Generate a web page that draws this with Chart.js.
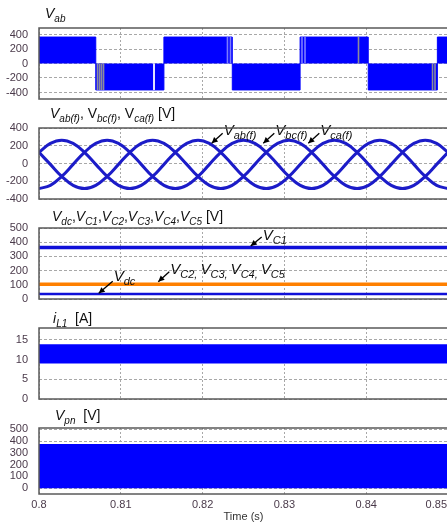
<!DOCTYPE html>
<html>
<head>
<meta charset="utf-8">
<script src="https://cdn.jsdelivr.net/npm/chart.js@4.4.0/dist/chart.umd.min.js"></script>
<style>
html, body { margin:0; padding:0; background:#fff; overflow:hidden; width:447px; height:525px; }
canvas { position:absolute; left:0; }
.ttl { position:absolute; font-family:"Liberation Sans", Arial, sans-serif; font-size:14px; line-height:16px; color:#111; white-space:nowrap; z-index:2; }
.ttl i { font-style:italic; }
.s { font-size:10px; position:relative; top:4px; font-style:italic; }
</style>
</head>
<body>
<div class="ttl" style="left:45px;top:5px"><i>V</i><span class="s">ab</span></div>
<div class="ttl" style="left:50px;top:105px"><i>V</i><span class="s">ab(f)</span>, V<span class="s">bc(f)</span>, V<span class="s">ca(f)</span> [V]</div>
<div class="ttl" style="left:52px;top:208px"><i>V</i><span class="s">dc</span>,<i>V</i><span class="s">C1</span>,<i>V</i><span class="s">C2</span>,<i>V</i><span class="s">C3</span>,<i>V</i><span class="s">C4</span>,<i>V</i><span class="s">C5</span> [V]</div>
<div class="ttl" style="left:53px;top:310px"><i>i</i><span class="s">L1</span>&nbsp; [A]</div>
<div class="ttl" style="left:55px;top:407px"><i>V</i><span class="s">pn</span>&nbsp; [V]</div>

<canvas id="c1" width="448" height="107" style="top:10px"></canvas>
<canvas id="c2" width="448" height="107" style="top:110px"></canvas>
<canvas id="c3" width="448" height="107" style="top:210px"></canvas>
<canvas id="c4" width="448" height="107" style="top:310px"></canvas>
<canvas id="c5" width="448" height="115" style="top:410px"></canvas>

<script>
// x ticks (s)
var timeTicks = [0.8, 0.81, 0.82, 0.83, 0.84, 0.85];

// Vab : switched line voltage, level changes
var vabTime  = [0.8, 0.80694, 0.81527, 0.82363, 0.83192, 0.84025, 0.8487, 0.85];
var vabLevel = [365, -365, 365, -365, 365, -365, 365, 365];
var vabTicks = [-400, -200, 0, 200, 400];
// switching transients seen inside the blocks
var grayTime  = [0.80715, 0.8074, 0.80764, 0.80789, 0.83906, 0.84811, 0.84841];
var grayLevel = [-365, -365, -365, -365, 365, -365, -365];
var paleTime  = [0.82304, 0.82341, 0.83215, 0.83252];
var paleLevel = [365, 365, 365, 365];
var gapTime  = [0.81406];
var gapLevel = [-365];

// filtered line voltages, read every 30 deg (60 Hz)
var fTime = [0.8, 0.80139, 0.80278, 0.80417, 0.80556, 0.80694, 0.80833, 0.80972, 0.81111, 0.8125, 0.81389, 0.81528,
             0.81667, 0.81806, 0.81944, 0.82083, 0.82222, 0.82361, 0.825, 0.82639, 0.82778, 0.82917, 0.83056, 0.83194,
             0.83333, 0.83472, 0.83611, 0.8375, 0.83889, 0.84028, 0.84167, 0.84306, 0.84444, 0.84583, 0.84722, 0.84861, 0.85];
var vabF = [-283, -246, -146, -10, 126, 226, 263, 226, 126, -10, -146, -246,
            -283, -246, -146, -10, 126, 226, 263, 226, 126, -10, -146, -246,
            -283, -246, -146, -10, 126, 226, 263, 226, 126, -10, -146, -246, -283];
var vbcF = [126, 226, 263, 226, 126, -10, -146, -246, -283, -246, -146, -10,
            126, 226, 263, 226, 126, -10, -146, -246, -283, -246, -146, -10,
            126, 226, 263, 226, 126, -10, -146, -246, -283, -246, -146, -10, 126];
var vcaF = [126, -10, -146, -246, -283, -246, -146, -10, 126, 226, 263, 226,
            126, -10, -146, -246, -283, -246, -146, -10, 126, 226, 263, 226,
            126, -10, -146, -246, -283, -246, -146, -10, 126, 226, 263, 226, 126];
var vfTicks = [-400, -200, 0, 200, 400];

// capacitor voltages
var dcTime = [0.8, 0.85];
var vC1 = [362, 362];
var vC2to5 = [104, 104];
var vDc = [35, 35];
var capTicks = [0, 100, 200, 300, 400, 500];

// inductor current ripple band
var iL1Max = [13.9, 13.9];
var iL1Min = [9.0, 9.0];
var iTicks = [0, 5, 10, 15];

// Vpn envelope
var vpnMax = [375, 375];
var vpnTicks = [0, 100, 200, 300, 400, 500];

var FONT = '"Liberation Sans", Arial, sans-serif';
var BLUE = '#0000ff';
var LINE = '#1c1cc8';

function pts(xs, ys){
    return xs.map(function(x, i){ return {x: x, y: ys[i]}; });
}

// vertical strokes from 0 to the block level, split by gaps
function marks(xs, ys){
    var out = [];
    xs.forEach(function(x, i){
        out.push({x: x, y: 0}, {x: x, y: ys[i]}, {x: x, y: null});
    });
    return out;
}

var framePlugin = {
    id: 'frame',
    afterDraw: function(chart){
        var a = chart.chartArea, ctx = chart.ctx;
        ctx.save();
        ctx.strokeStyle = '#5a5a5a';
        ctx.lineWidth = 1.5;
        ctx.strokeRect(a.left, a.top, a.right - a.left, a.bottom - a.top);
        ctx.restore();
    }
};

// arrows with italic labels, tip given in data units
var arrowPlugin = {
    id: 'arrows',
    afterDatasetsDraw: function(chart, args, opts){
        var items = opts.items || [];
        var ctx = chart.ctx, xs = chart.scales.x, ys = chart.scales.y;
        ctx.save();
        items.forEach(function(it){
            var tx = xs.getPixelForValue(it.x), ty = ys.getPixelForValue(it.y);
            var bx = tx + it.dx, by = ty + it.dy;
            ctx.strokeStyle = '#000'; ctx.fillStyle = '#000'; ctx.lineWidth = 1.3;
            ctx.beginPath(); ctx.moveTo(bx, by); ctx.lineTo(tx, ty); ctx.stroke();
            var ang = Math.atan2(ty - by, tx - bx);
            ctx.beginPath();
            ctx.moveTo(tx, ty);
            ctx.lineTo(tx - 6 * Math.cos(ang) + 3 * Math.sin(ang), ty - 6 * Math.sin(ang) - 3 * Math.cos(ang));
            ctx.lineTo(tx - 6 * Math.cos(ang) - 3 * Math.sin(ang), ty - 6 * Math.sin(ang) + 3 * Math.cos(ang));
            ctx.closePath(); ctx.fill();
            var x = bx + 1, y = by + it.base;
            ctx.fillStyle = '#111';
            ctx.textBaseline = 'alphabetic'; ctx.textAlign = 'left';
            it.parts.forEach(function(p){
                ctx.font = 'italic ' + (p[1] ? 11 : 15) + 'px ' + FONT;
                ctx.fillText(p[0], x, p[1] ? y + 4 : y);
                x += ctx.measureText(p[0]).width;
            });
        });
        ctx.restore();
    }
};

var timeLabels = {
    id: 'timeLabels',
    afterDraw: function(chart){
        var xs = chart.scales.x, ctx = chart.ctx;
        ctx.save();
        ctx.font = '11px ' + FONT;
        ctx.fillStyle = '#4a3a4a';
        ctx.textBaseline = 'middle'; ctx.textAlign = 'left';
        timeTicks.forEach(function(t){
            var label = String(t);
            var w = ctx.measureText(label).width;
            var px = Math.min(xs.getPixelForValue(t) - w / 2, 447 - w);
            ctx.fillText(label, px, chart.chartArea.bottom + 11);
        });
        ctx.restore();
    }
};

function makeChart(id, datasets, yMin, yMax, yTicks, arrows, bottom){
    var xScale = {
        type: 'linear', min: 0.8, max: 0.85,
        afterBuildTicks: function(s){ s.ticks = timeTicks.map(function(v){ return {value: v}; }); },
        ticks: {display: false},
        grid: {color: '#a8a8a8', lineWidth: 1, drawTicks: false},
        border: {display: false, dash: [2, 2]},
        afterFit: function(s){ s.height = bottom ? 31 : 0; }
    };
    if (bottom) {
        xScale.title = {display: true, text: 'Time (s)', color: '#333', font: {family: FONT, size: 11}, padding: {top: 0, bottom: 1}};
    }
    var plugins = [framePlugin, arrowPlugin];
    if (bottom) plugins.push(timeLabels);
    return new Chart(document.getElementById(id), {
        type: 'line',
        data: {datasets: datasets},
        options: {
            responsive: false,
            animation: false,
            spanGaps: false,
            layout: {padding: {top: 18, bottom: bottom ? 0 : 18, left: 0, right: 0}},
            plugins: {legend: {display: false}, tooltip: {enabled: false}, arrows: {items: arrows}},
            elements: {point: {radius: 0}},
            scales: {
                x: xScale,
                y: {
                    min: yMin, max: yMax,
                    afterBuildTicks: function(s){ s.ticks = yTicks.map(function(v){ return {value: v}; }); },
                    afterFit: function(s){ s.width = 39; },
                    ticks: {color: '#4a3a4a', font: {family: FONT, size: 11}, padding: 11, autoSkip: false},
                    grid: {color: '#a8a8a8', lineWidth: 1, drawTicks: false},
                    border: {display: false, dash: [3, 2]}
                }
            }
        },
        plugins: plugins
    });
}

makeChart('c1', [
    {data: marks(grayTime, grayLevel), borderColor: '#8c8c9c', borderWidth: 1.6, fill: false},
    {data: marks(paleTime, paleLevel), borderColor: '#7c7cff', borderWidth: 1.6, fill: false},
    {data: marks(gapTime, gapLevel), borderColor: '#ffffff', borderWidth: 1, fill: false},
    {data: pts(vabTime, vabLevel), stepped: true, borderColor: BLUE, borderWidth: 1, backgroundColor: BLUE, fill: 'origin'}
], -490, 490, vabTicks, [], false);

makeChart('c2', [
    {data: pts(fTime, vabF), borderColor: LINE, borderWidth: 3, tension: 0.4, fill: false},
    {data: pts(fTime, vbcF), borderColor: LINE, borderWidth: 3, tension: 0.4, fill: false},
    {data: pts(fTime, vcaF), borderColor: LINE, borderWidth: 3, tension: 0.4, fill: false}
], -400, 400, vfTicks, [
    {x: 0.82111, y: 228, dx: 11, dy: -10, base: 2, parts: [['V', 0], ['ab(f)', 1]]},
    {x: 0.82742, y: 228, dx: 11, dy: -10, base: 2, parts: [['V', 0], ['bc(f)', 1]]},
    {x: 0.83292, y: 228, dx: 11, dy: -10, base: 2, parts: [['V', 0], ['ca(f)', 1]]}
], false);

makeChart('c3', [
    {data: pts(dcTime, vC1), borderColor: '#1010d8', borderWidth: 3.5, fill: false},
    {data: pts(dcTime, vC2to5), borderColor: '#ff8000', borderWidth: 3.5, fill: false},
    {data: pts(dcTime, vDc), borderColor: '#1010d8', borderWidth: 2.5, fill: false}
], 0, 500, capTicks, [
    {x: 0.82588, y: 373, dx: 11, dy: -9, base: 3, parts: [['V', 0], ['C1', 1]]},
    {x: 0.81458, y: 122, dx: 11, dy: -10, base: 2, parts: [['V', 0], ['C2, ', 1], ['V', 0], ['C3, ', 1], ['V', 0], ['C4, ', 1], ['V', 0], ['C5', 1]]},
    {x: 0.8073, y: 40, dx: 14, dy: -12, base: 0, parts: [['V', 0], ['dc', 1]]}
], false);

makeChart('c4', [
    {data: pts(dcTime, iL1Max), borderWidth: 0, backgroundColor: BLUE, fill: '+1'},
    {data: pts(dcTime, iL1Min), borderWidth: 0, fill: false}
], 0, 18, iTicks, [], false);

makeChart('c5', [
    {data: pts(dcTime, vpnMax), borderWidth: 0, backgroundColor: BLUE, fill: 'origin'}
], -50, 512, vpnTicks, [], true);
</script>
</body>
</html>
